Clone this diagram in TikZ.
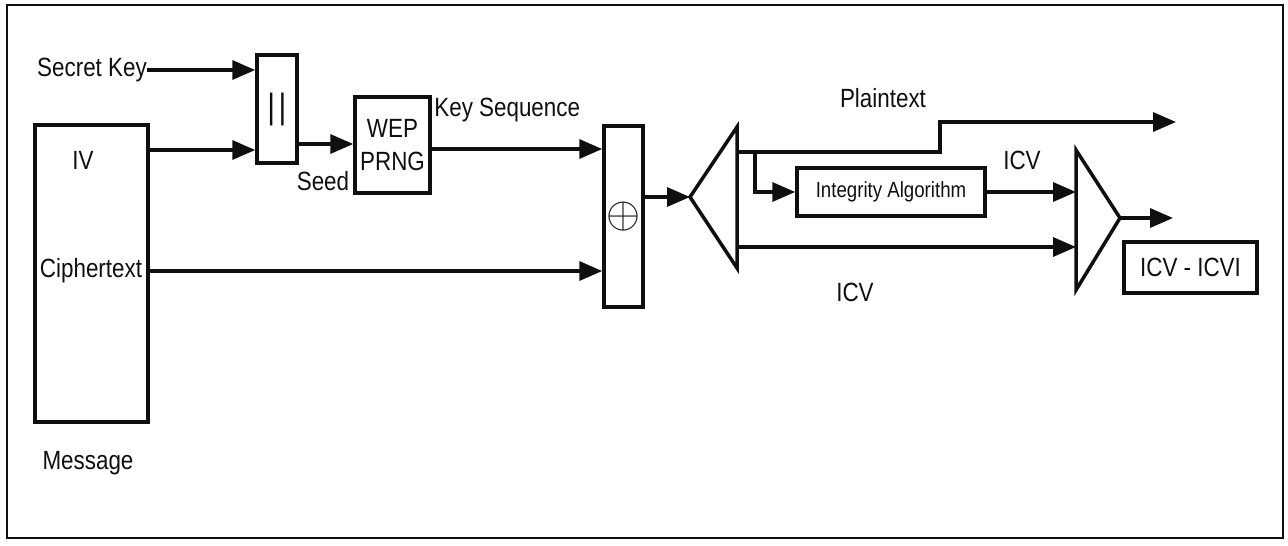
\documentclass[tikz,border=0pt]{standalone}
\usepackage{fontspec}
\setmainfont{Liberation Sans}[FakeStretch=0.85]
\usetikzlibrary{arrows.meta,calc,positioning}
\definecolor{InkBlack}{RGB}{15,15,15}
\tikzset{
  arr/.style={-{Triangle[length=0.46cm,width=0.38cm]},line width=2pt,InkBlack},
  wire/.style={line width=2pt,InkBlack},
  blockbox/.style={draw=InkBlack,line width=2pt,inner sep=0pt,align=center},
  lbl/.style={inner sep=0pt,font=\fontsize{15}{17}\selectfont,text=InkBlack},
}

\begin{document}
\begin{tikzpicture}[x=0.02cm,y=-0.02cm]
  \useasboundingbox (0,0) rectangle (1288,545);
  \draw[line width=1.5pt,InkBlack] (7,5) rectangle (1283,538);
  \node[blockbox,minimum width=2.26cm,minimum height=5.94cm] (msg) at (91.5,273.5) {};
  \node[blockbox,minimum width=0.8cm,minimum height=2.16cm] (cat) at (277,109) {};
  \node[lbl] at (cat) {\fontsize{20}{20}\selectfont|\kern2pt|};
  \node[blockbox,minimum width=1.5cm,minimum height=1.92cm,lbl] (wep) at (392.5,145) {WEP\\[2pt]PRNG};
  \node[blockbox,minimum width=0.78cm,minimum height=3.62cm] (xor) at (623.5,216.5) {};
  \node[lbl] at (xor) {\fontsize{24}{24}\selectfont$\oplus$};
  \node[blockbox,minimum width=3.76cm,minimum height=0.96cm,lbl,font=\fontsize{12.5}{14}\selectfont] (integ) at (891,192) {Integrity Algorithm};
  \node[blockbox,minimum width=2.66cm,minimum height=1.02cm,lbl] (cmp) at (1190.5,267.5) {ICV - ICVI};
  \node[lbl] (sk) at (92,70) {Secret Key};
  \node[lbl] (iv) at (83,160) {IV};
  \node[lbl] (ctext) at (91,271) {Ciphertext};
  \node[lbl] (msglbl) at (88,463) {Message};
  \node[lbl] (seed) at (323,181) {Seed};
  \node[lbl,anchor=west] (kseq) at (434,110) {Key Sequence};
  \node[lbl] (plain) at (883,98) {Plaintext};
  \node[lbl] (icvup) at (1022,160) {ICV};
  \node[lbl] (icvlow) at (855,292) {ICV};
  \coordinate (ivrow) at (0,150);
  \coordinate (seedrow) at (0,144);
  \coordinate (ksrow) at (0,149);
  \coordinate (sp) at (690,197);
  \coordinate (sptop) at (737,127);
  \coordinate (spbot) at (737,268);
  \coordinate (cmpl) at (1076,150);
  \coordinate (cmpb) at (1076,290);
  \coordinate (cmpo) at (1120,218);
  \coordinate (plainend) at (1176,122);
  \coordinate (outend) at (1173,218);
  \draw[wire] (sp) -- (sptop) -- (spbot) -- cycle;
  \draw[wire] (cmpl) -- (cmpo) -- (cmpb) -- cycle;
  \draw[arr] (sk.east) -- (sk.east -| cat.west);
  \draw[arr] (msg.east |- ivrow) -- (cat.west |- ivrow);
  \draw[arr] (cat.east |- seedrow) -- (wep.west |- seedrow);
  \draw[arr] (wep.east |- ksrow) -- (xor.west |- ksrow);
  \draw[arr] (msg.east |- ctext) -- (xor.west |- ctext);
  \draw[arr] (xor.east |- sp) -- (sp);
  \draw[arr] (737,152) -- (940,152) -- (940,122) -- (plainend);
  \draw[arr] (755,152) -- (755,192) -- (integ.west);
  \draw[arr] (integ.east) -- (integ.east -| cmpl);
  \draw[arr] (737,247) -- (cmpl |- 0,247);
  \draw[arr] (cmpo) -- (outend);
\end{tikzpicture}
\end{document}
